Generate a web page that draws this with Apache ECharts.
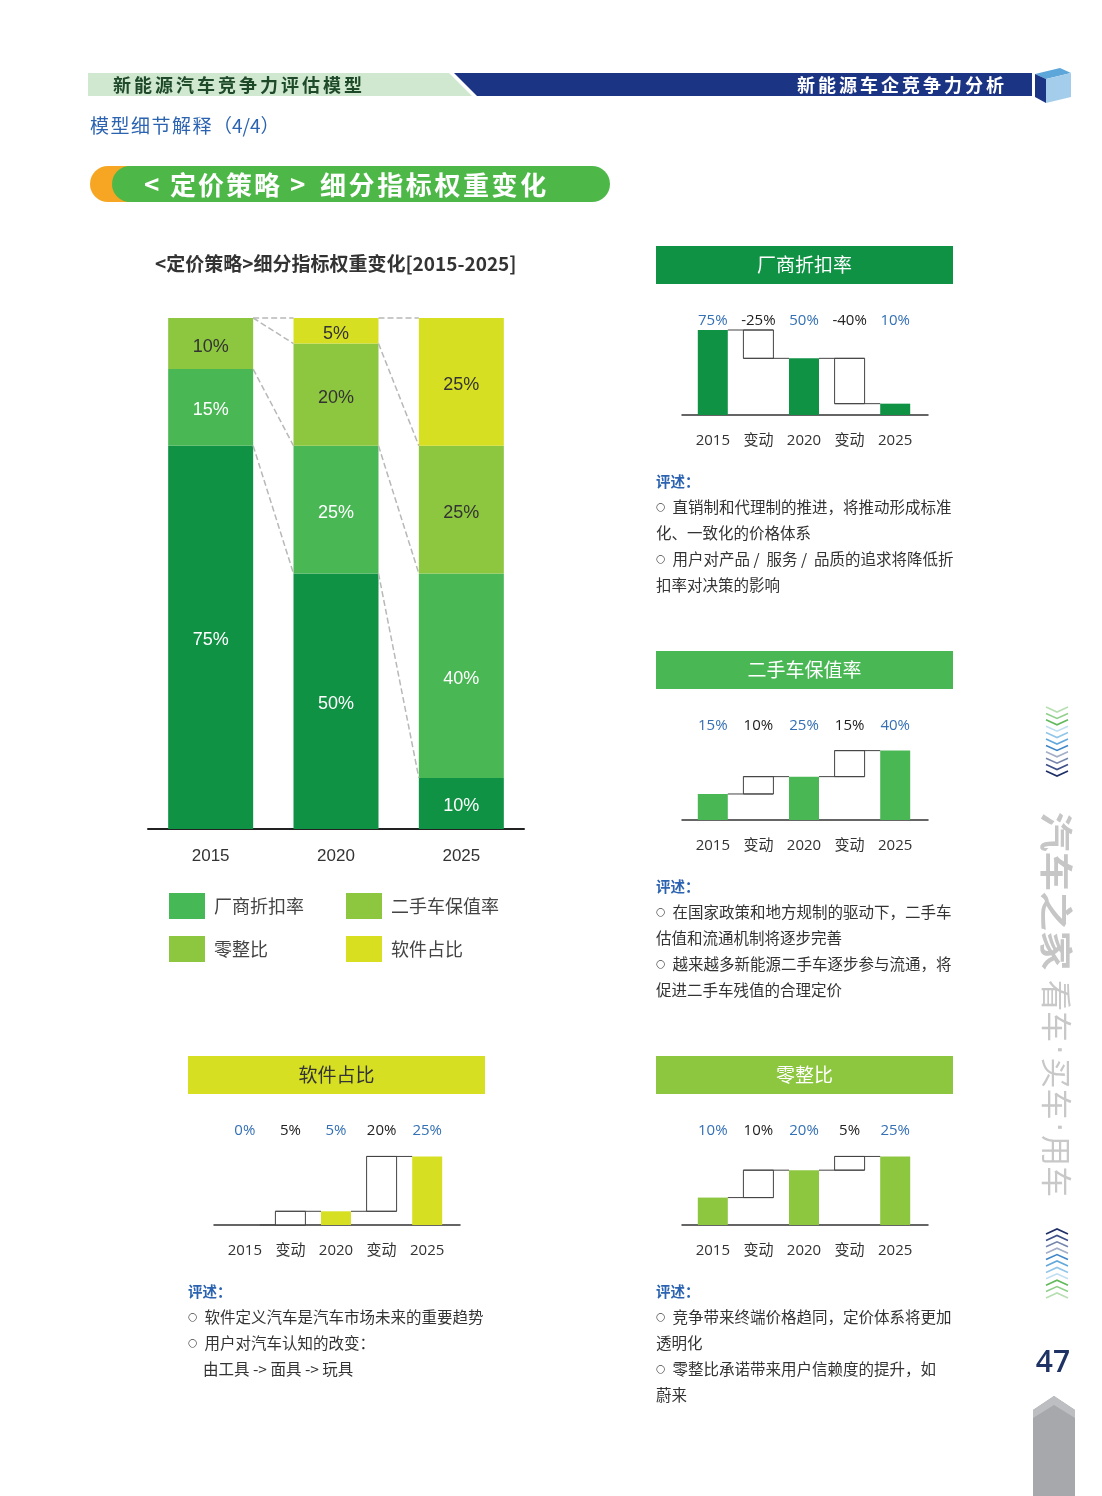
<!DOCTYPE html>
<html>
<head>
<meta charset="utf-8">
<script src="https://cdn.jsdelivr.net/npm/echarts@6/dist/echarts.min.js"></script>
<style>
html,body{margin:0;padding:0;background:#fff;}
#page{width:1102px;height:1496px;}
</style>
</head>
<body>
<div id="page"></div>
<script>
// ---------- DATA ----------
const years = ['2015', '2020', '2025'];
const seriesNames = ['厂商折扣率', '二手车保值率', '零整比', '软件占比'];
const discountRate = [75, 50, 10];
const residualRate = [15, 25, 40];
const partsRatio = [10, 20, 25];
const softwareShare = [0, 5, 25];
const stepLabels = ['2015', '变动', '2020', '变动', '2025'];

// ---------- STYLE ----------
const CJK = '"Noto Sans CJK SC", "Noto Sans", sans-serif';
const NUM = '"Liberation Sans", Arial, sans-serif';
const MINI = '"Open Sans", "Noto Sans CJK SC", sans-serif';
const C_DARK = '#0f9244', C_MID = '#4ab755', C_LIME = '#8dc63f', C_YEL = '#d6df22';
const seriesColors = [C_DARK, C_MID, C_LIME, C_YEL];
const labelColors = ['#fff', '#fff', '#333', '#333'];
const MAIN_BAR_W = 85, MINI_BAR_W = 30;

const chart = echarts.init(document.getElementById('page'), null, {renderer: 'canvas'});

const grids = [], xAxes = [], yAxes = [], series = [];

// ---------- MAIN STACKED CHART ----------
grids.push({left: 148, width: 376, top: 318, height: 511});
xAxes.push({
  gridIndex: 0, type: 'category', data: years,
  axisLine: {lineStyle: {color: '#222', width: 2}}, axisTick: {show: false},
  axisLabel: {fontFamily: NUM, fontSize: 17, color: '#333', margin: 19}
});
yAxes.push({gridIndex: 0, type: 'value', min: 0, max: 100, show: false});
const mainData = [discountRate, residualRate, partsRatio, softwareShare];
mainData.forEach((arr, s) => {
  series.push({
    name: seriesNames[s], type: 'bar', stack: 'total', xAxisIndex: 0, yAxisIndex: 0,
    barWidth: MAIN_BAR_W, data: arr, itemStyle: {color: seriesColors[s]},
    label: {show: true, position: 'inside', offset: [0, 3], fontFamily: NUM, fontSize: 18, color: labelColors[s],
      formatter: p => p.value ? p.value + '%' : ''}
  });
});
// cumulative tops for dashed connectors
const cum = mainData.map((_, s) => years.map((_, i) => mainData.slice(0, s + 1).reduce((a, r) => a + r[i], 0)));
const connData = [];
for (let i = 0; i < years.length - 1; i++) for (let s = 0; s < mainData.length; s++) connData.push([i, cum[s][i], cum[s][i + 1]]);
series.push({
  type: 'custom', xAxisIndex: 0, yAxisIndex: 0, silent: true, z: 5, data: connData,
  renderItem: (params, api) => {
    const a = api.coord([api.value(0), api.value(1)]);
    const b = api.coord([api.value(0) + 1, api.value(2)]);
    return {type: 'line', shape: {x1: a[0] + MAIN_BAR_W / 2, y1: a[1], x2: b[0] - MAIN_BAR_W / 2, y2: b[1]},
      style: {stroke: '#b8b8b8', lineWidth: 1.5, lineDash: [6, 3]}};
  }
});

// ---------- MINI WATERFALLS ----------
function waterfall(vals, color, gl, gt, yMax) {
  const gi = grids.length;
  grids.push({left: gl, width: 228, top: gt, height: 85});
  grids.push({left: gl - 8, width: 246, top: gt, height: 85});
  const xb = xAxes.length;
  xAxes.push({gridIndex: gi, type: 'category', data: stepLabels, axisLine: {show: false}, axisTick: {show: false},
    axisLabel: {fontFamily: MINI, fontSize: 15, color: '#333', margin: 18}});
  const topLabels = [vals[0], vals[1] - vals[0], vals[1], vals[2] - vals[1], vals[2]].map(v => v + '%');
  xAxes.push({gridIndex: gi, type: 'category', position: 'top', data: topLabels, axisLine: {show: false}, axisTick: {show: false},
    axisLabel: {fontFamily: MINI, fontSize: 15, margin: 2, color: (v, i) => (i % 2 === 0 ? '#3470b4' : '#222')}});
  xAxes.push({gridIndex: gi + 1, type: 'category', data: [''], axisLine: {lineStyle: {color: '#333', width: 1.5}},
    axisTick: {show: false}, axisLabel: {show: false}});
  const yi = yAxes.length;
  yAxes.push({gridIndex: gi, type: 'value', min: 0, max: yMax, show: false});
  yAxes.push({gridIndex: gi + 1, type: 'value', min: 0, max: 1, show: false});
  series.push({type: 'bar', xAxisIndex: xb, yAxisIndex: yi, barWidth: MINI_BAR_W, z: 3,
    data: [vals[0], '-', vals[1], '-', vals[2]], itemStyle: {color: color}, silent: true});
  series.push({
    type: 'custom', xAxisIndex: xb, yAxisIndex: yi, silent: true, z: 4,
    data: [[1, vals[0], vals[1]], [3, vals[1], vals[2]]],
    renderItem: (params, api) => {
      const p = api.coord([api.value(0), api.value(1)]);
      const n = api.coord([api.value(0), api.value(2)]);
      const cw = api.size([1, 0])[0];
      const hw = MINI_BAR_W / 2;
      const cx = p[0];
      const st = {stroke: '#444', lineWidth: 1};
      return {type: 'group', children: [
        {type: 'rect', shape: {x: cx - hw, y: Math.min(p[1], n[1]), width: MINI_BAR_W, height: Math.abs(p[1] - n[1])},
          style: {fill: '#fff', stroke: '#444', lineWidth: 1}},
        {type: 'line', shape: {x1: cx - cw + hw, y1: p[1], x2: cx + hw, y2: p[1]}, style: st},
        {type: 'line', shape: {x1: cx - hw, y1: n[1], x2: cx + cw - hw, y2: n[1]}, style: st}
      ]};
    }
  });
}
waterfall(discountRate, C_DARK, 690, 330, 75);
waterfall(residualRate, C_MID, 690, 735, 49);
waterfall(softwareShare, C_YEL, 222, 1140, 31);
waterfall(partsRatio, C_LIME, 690, 1140, 31);

// ---------- GRAPHIC DECORATION / TEXT ----------
const g = [];
function txt(x, y, text, opt) {
  g.push({type: 'text', x: x, y: y, z: 10, silent: true, style: Object.assign({
    text: text, fill: '#333', fontFamily: CJK, fontSize: 15, textAlign: 'left', textVerticalAlign: 'middle'}, opt || {})});
}
function spaced(x, y, str, pitch, opt) {
  Array.from(str).forEach((ch, i) => txt(x + i * pitch, y, ch, opt));
}
function poly(points, fill, z) {
  g.push({type: 'polygon', z: z || 1, silent: true, shape: {points: points}, style: {fill: fill}});
}
// header band
poly([[88, 73], [449, 73], [472, 96], [88, 96]], '#cfe8cf');
poly([[454, 73], [1032, 73], [1032, 96], [477, 96]], '#1c3484');
spaced(113, 85, '新能源汽车竞争力评估模型', 21, {fontSize: 18, fontWeight: 'bold', fill: '#1f4a2a'});
spaced(797, 85, '新能源车企竞争力分析', 21, {fontSize: 18, fontWeight: 'bold', fill: '#fff'});
// cube
poly([[1035, 74], [1060, 68], [1071, 73], [1046, 79]], '#5da6da', 2);
poly([[1035, 74], [1046, 79], [1046, 103], [1035, 97]], '#1c3484', 2);
poly([[1046, 79], [1071, 73], [1071, 97], [1046, 103]], '#a3cdea', 2);
// subtitle
spaced(90, 126, '模型细节解释', 20.5, {fontSize: 19, fill: '#2b63b1'});
txt(213, 126, '（4/4）', {fontSize: 19, fill: '#2b63b1'});
// banner
g.push({type: 'rect', z: 1, silent: true, shape: {x: 90, y: 166, width: 80, height: 36, r: 18}, style: {fill: '#f6a623'}});
g.push({type: 'rect', z: 2, silent: true, shape: {x: 112, y: 166, width: 498, height: 36, r: 18}, style: {fill: '#4db848'}});
const bannerStyle = {fontSize: 26, fontWeight: 'bold', fill: '#fff'};
txt(144, 184, '<', bannerStyle);
spaced(170, 185, '定价策略', 28, bannerStyle);
txt(290, 184, '>', bannerStyle);
spaced(320, 185, '细分指标权重变化', 28.6, bannerStyle);
// main chart title
txt(155, 264, '<定价策略>细分指标权重变化[2015-2025]', {fontSize: 19, fontWeight: 'bold', fill: '#333'});
// mini headers
function header(x, y, text, fill, tc) {
  g.push({type: 'rect', z: 1, silent: true, shape: {x: x, y: y, width: 297, height: 38}, style: {fill: fill}});
  txt(x + 148.5, y + 19, text, {fontSize: 19, fill: tc, textAlign: 'center'});
}
header(656, 246, '厂商折扣率', C_DARK, '#fff');
header(656, 651, '二手车保值率', C_MID, '#fff');
header(188, 1056, '软件占比', C_YEL, '#333');
header(656, 1056, '零整比', C_LIME, '#fff');
// comment blocks
function comment(x, y, lines) {
  txt(x, y, '评述：', {fontSize: 14.5, fontWeight: 'bold', fill: '#2b63b1'});
  lines.forEach((l, i) => {
    const bullet = l.startsWith('○');
    const indent = l.startsWith('  ');
    const body = bullet ? l.slice(1) : l.trim();
    g.push({type: 'text', x: x + (indent ? 15 : 0), y: y + 26 * (i + 1), z: 10, silent: true, style: {
      text: (bullet ? '{b|○ }' : '') + body, fill: '#333', fontFamily: CJK, fontSize: 15.5,
      textAlign: 'left', textVerticalAlign: 'middle',
      rich: {b: {fontSize: 11, fill: '#444', fontFamily: 'DejaVu Sans'}}}});
  });
}
comment(656, 481, ['○ 直销制和代理制的推进，将推动形成标准', '化、一致化的价格体系', '○ 用户对产品 /  服务 /  品质的追求将降低折', '扣率对决策的影响']);
comment(656, 886, ['○ 在国家政策和地方规制的驱动下，二手车', '估值和流通机制将逐步完善', '○ 越来越多新能源二手车逐步参与流通，将', '促进二手车残值的合理定价']);
comment(188, 1291, ['○ 软件定义汽车是汽车市场未来的重要趋势', '○ 用户对汽车认知的改变：', '  由工具 -> 面具 -> 玩具']);
comment(656, 1291, ['○ 竞争带来终端价格趋同，定价体系将更加', '透明化', '○ 零整比承诺带来用户信赖度的提升，如', '蔚来']);
// side chevrons
const chevCols = ['#b7dfb1', '#8fd08a', '#62ba5c', '#bfdff1', '#93c6e9', '#63a8dc', '#3f86c8', '#a4aec6', '#7484aa', '#3e5088', '#1d2f66'];
chevCols.forEach((c, i) => {
  const y = 707 + i * 6.4;
  g.push({type: 'polyline', silent: true, shape: {points: [[1046, y], [1057, y + 5], [1068, y]]}, style: {stroke: c, lineWidth: 1.6, fill: null}});
});
chevCols.slice().reverse().forEach((c, i) => {
  const y = 1229 + i * 6.4;
  g.push({type: 'polyline', silent: true, shape: {points: [[1046, y + 5], [1057, y], [1068, y + 5]]}, style: {stroke: c, lineWidth: 1.6, fill: null}});
});
// vertical brand text
g.push({type: 'text', x: 1073, y: 812, rotation: -Math.PI / 2, scaleX: 1.2, silent: true, style: {
  text: '汽车之家', textAlign: 'left', textVerticalAlign: 'top', fill: '#c6c6c6',
  fontSize: 33, fontWeight: 'bold', fontFamily: CJK}});
g.push({type: 'text', x: 1072, y: 980, rotation: -Math.PI / 2, silent: true, style: {
  text: '{c|看车}{d|·}{c|买车}{d|·}{c|用车}', textAlign: 'left', textVerticalAlign: 'top', fill: '#c8c8c8',
  rich: {c: {fontSize: 31, fontFamily: CJK, fill: '#c8c8c8'}, d: {fontSize: 30, fontFamily: 'DejaVu Sans', fill: '#c8c8c8', padding: [0, 3]}}}});
// page number
txt(1053, 1363, '47', {fontSize: 30, fontFamily: '"Open Sans", sans-serif', fontWeight: 600, fill: '#1e3264', textAlign: 'center'});
poly([[1033, 1410], [1054, 1396], [1075, 1410], [1075, 1496], [1033, 1496]], '#a6a8ab');
poly([[1033, 1410], [1054, 1396], [1075, 1410], [1075, 1418], [1054, 1405], [1033, 1418]], '#bdbec1', 2);

// ---------- LEGENDS ----------
const legendCommon = {orient: 'vertical', itemWidth: 36, itemHeight: 26, itemGap: 17, padding: 0, selectedMode: false,
  icon: 'rect', textStyle: {fontFamily: CJK, fontSize: 18, color: '#444', padding: [0, 0, 0, 4]}};
const legendColors = {'厂商折扣率': '#46b855', '二手车保值率': '#8dc63f', '零整比': '#8dc63f', '软件占比': '#d8df20'};
const legends = [
  Object.assign({left: 169, top: 893, data: [seriesNames[0], seriesNames[2]].map(n => ({name: n, itemStyle: {color: legendColors[n]}}))}, legendCommon),
  Object.assign({left: 346, top: 893, data: [seriesNames[1], seriesNames[3]].map(n => ({name: n, itemStyle: {color: legendColors[n]}}))}, legendCommon)
];

chart.setOption({
  backgroundColor: '#fff',
  animation: false,
  grid: grids, xAxis: xAxes, yAxis: yAxes, series: series,
  legend: legends,
  graphic: {elements: g}
});
</script>
</body>
</html>
